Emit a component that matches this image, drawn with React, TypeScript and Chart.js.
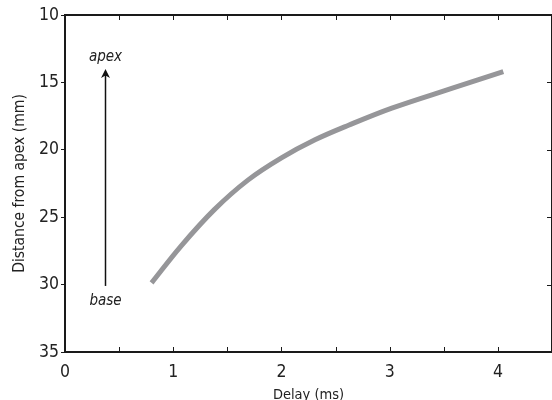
import React, { useEffect, useRef } from "react";
import { Chart, registerables } from "chart.js";

Chart.register(...registerables);

// Curve data
const delayMs = [0.8, 1.07, 1.38, 1.69, 2.0, 2.31, 2.62, 3.02, 3.58, 4.05];
const distanceMm = [29.87, 27.16, 24.44, 22.25, 20.6, 19.26, 18.18, 16.91, 15.43, 14.2];

// Axis ranges / ticks
const xRange = [0, 4.5];
const xTickStep = 0.5;
const yRange = [10, 35];
const yTickStep = 5;

// Annotation (arrow from base to apex)
const arrowX = [0.37];
const arrowY = [30.1, 14.0];
const annotationTexts = ["apex", "base"];
const annotationY = [13.1, 31.2];

const TICK_FONT = "'DejaVu Sans Condensed', 'Liberation Sans Narrow', sans-serif";
const TITLE_FONT = "'DejaVu Sans Condensed', 'Liberation Sans Narrow', sans-serif";

const framePlugin = {
  id: "frame",
  afterDraw(chart: any) {
    const { ctx, chartArea } = chart;
    const xs = chart.scales.x;
    const ys = chart.scales.y;
    const { left, right, top, bottom } = chartArea;
    ctx.save();
    ctx.strokeStyle = "#1a1a1a";
    ctx.lineWidth = 2;
    ctx.strokeRect(left, top, right - left, bottom - top);
    ctx.lineWidth = 1;
    ctx.beginPath();
    xs.ticks.forEach((t: any) => {
      const px = Math.round(xs.getPixelForValue(t.value)) + 0.5;
      ctx.moveTo(px, bottom);
      ctx.lineTo(px, bottom - 5);
      ctx.moveTo(px, top);
      ctx.lineTo(px, top + 5);
    });
    ys.ticks.forEach((t: any) => {
      const py = Math.round(ys.getPixelForValue(t.value)) + 0.5;
      ctx.moveTo(right, py);
      ctx.lineTo(right - 5, py);
    });
    ctx.stroke();

    // arrow
    const ax = Math.round(xs.getPixelForValue(arrowX[0])) + 0.5;
    const y0 = ys.getPixelForValue(arrowY[0]);
    const y1 = ys.getPixelForValue(arrowY[1]);
    ctx.strokeStyle = "#111";
    ctx.fillStyle = "#111";
    ctx.lineWidth = 1.5;
    ctx.beginPath();
    ctx.moveTo(ax, y0);
    ctx.lineTo(ax, y1 + 6);
    ctx.stroke();
    ctx.beginPath();
    ctx.moveTo(ax, y1);
    ctx.lineTo(ax - 4.5, y1 + 9);
    ctx.lineTo(ax, y1 + 6.5);
    ctx.lineTo(ax + 4.5, y1 + 9);
    ctx.closePath();
    ctx.fill();

    ctx.font = `italic 15px ${TITLE_FONT}`;
    ctx.textAlign = "center";
    ctx.textBaseline = "middle";
    ctx.fillStyle = "#222";
    annotationTexts.forEach((txt, i) => {
      ctx.fillText(txt, ax, ys.getPixelForValue(annotationY[i]));
    });
    ctx.restore();
  },
};

export default function App() {
  const ref = useRef<HTMLCanvasElement | null>(null);
  useEffect(() => {
    if (!ref.current) return;
    const chart = new Chart(ref.current, {
      type: "line",
      data: {
        datasets: [
          {
            data: delayMs.map((x, i) => ({ x, y: distanceMm[i] })),
            borderColor: "rgb(150,150,153)",
            borderWidth: 5,
            borderCapStyle: "butt",
            pointRadius: 0,
            tension: 0.35,
            fill: false,
          },
        ],
      },
      options: {
        animation: false,
        responsive: false,
        maintainAspectRatio: false,
        layout: { padding: { top: 15, right: 0, left: 0, bottom: 0 } },
        plugins: { legend: { display: false }, tooltip: { enabled: false } },
        scales: {
          x: {
            type: "linear",
            min: xRange[0],
            max: xRange[1],
            afterFit: (s: any) => {
              s.height = 48;
              s.paddingLeft = 0;
              s.paddingRight = 0;
            },
            ticks: {
              stepSize: xTickStep,
              autoSkip: false,
              maxRotation: 0,
              padding: 10,
              color: "#222",
              font: { family: TICK_FONT, size: 17.5 },
              callback: (v: any) => (Number.isInteger(v) ? String(v) : ""),
            },
            grid: { display: false, drawTicks: false },
            border: { display: false },
            title: {
              display: true,
              text: "Delay (ms)",
              color: "#222",
              font: { family: TITLE_FONT, size: 14.5, lineHeight: 1 },
              padding: { top: 0, bottom: -2 },
            },
          },
          y: {
            type: "linear",
            reverse: true,
            min: yRange[0],
            max: yRange[1],
            afterFit: (s: any) => {
              s.width = 65;
            },
            ticks: {
              stepSize: yTickStep,
              padding: 2,
              color: "#222",
              font: { family: TICK_FONT, size: 17.5 },
            },
            grid: {
              display: true,
              drawOnChartArea: false,
              drawTicks: true,
              tickLength: 4,
              tickColor: "#1a1a1a",
            },
            border: { display: false },
            title: {
              display: true,
              text: "Distance from apex (mm)",
              color: "#222",
              font: { family: TITLE_FONT, size: 15.5, lineHeight: 1 },
              padding: { top: 12, bottom: 0 },
            },
          },
        },
      },
      plugins: [framePlugin],
    });
    return () => chart.destroy();
  }, []);
  return (
    <div style={{ position: "absolute", left: 0, top: 0, width: 552, height: 400, background: "#fff" }}>
      <canvas ref={ref} width={552} height={400} />
    </div>
  );
}
